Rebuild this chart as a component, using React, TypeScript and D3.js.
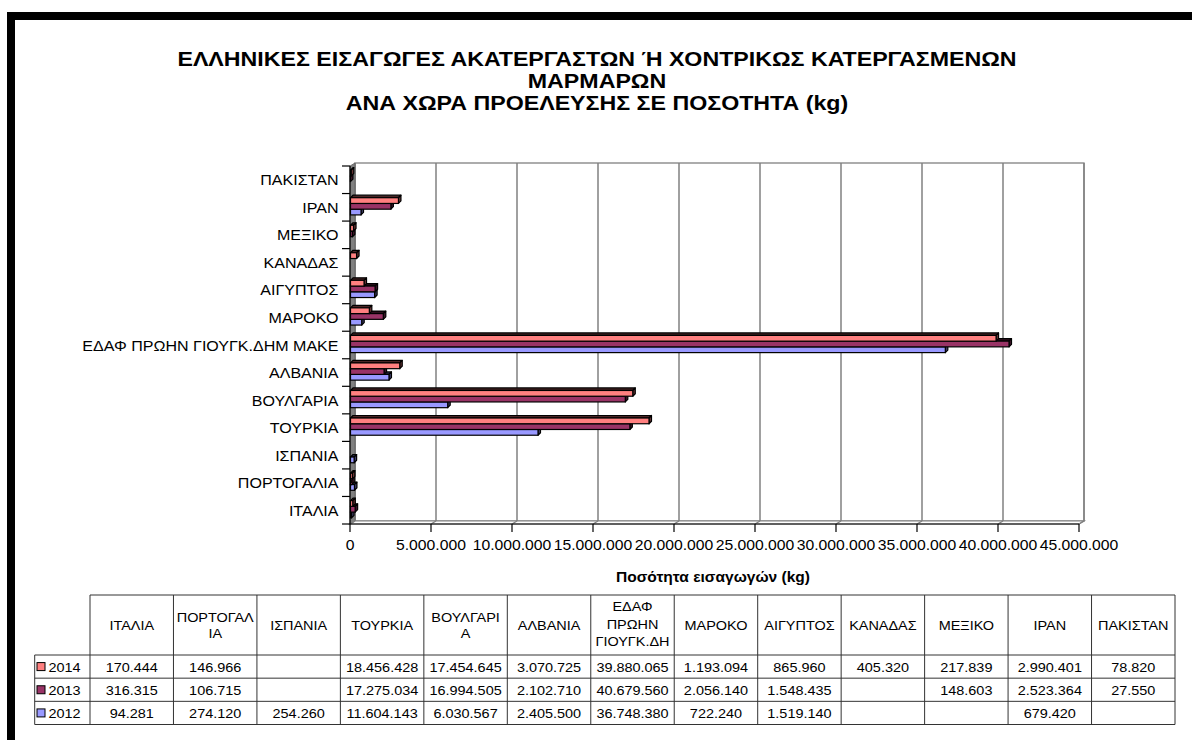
import React from "react";
import * as d3 from "d3";

const categories = [
  "ΙΤΑΛΙΑ",
  "ΠΟΡΤΟΓΑΛΙΑ",
  "ΙΣΠΑΝΙΑ",
  "ΤΟΥΡΚΙΑ",
  "ΒΟΥΛΓΑΡΙΑ",
  "ΑΛΒΑΝΙΑ",
  "ΕΔΑΦ ΠΡΩΗΝ ΓΙΟΥΓΚ.ΔΗΜ ΜΑΚΕ",
  "ΜΑΡΟΚΟ",
  "ΑΙΓΥΠΤΟΣ",
  "ΚΑΝΑΔΑΣ",
  "ΜΕΞΙΚΟ",
  "ΙΡΑΝ",
  "ΠΑΚΙΣΤΑΝ",
];

const tableHeaders = [
  ["ΙΤΑΛΙΑ"],
  ["ΠΟΡΤΟΓΑΛ", "ΙΑ"],
  ["ΙΣΠΑΝΙΑ"],
  ["ΤΟΥΡΚΙΑ"],
  ["ΒΟΥΛΓΑΡΙ", "Α"],
  ["ΑΛΒΑΝΙΑ"],
  ["ΕΔΑΦ", "ΠΡΩΗΝ", "ΓΙΟΥΓΚ.ΔΗ"],
  ["ΜΑΡΟΚΟ"],
  ["ΑΙΓΥΠΤΟΣ"],
  ["ΚΑΝΑΔΑΣ"],
  ["ΜΕΞΙΚΟ"],
  ["ΙΡΑΝ"],
  ["ΠΑΚΙΣΤΑΝ"],
];

const seriesNames = ["2014", "2013", "2012"];
const seriesColors = ["#FF8080", "#993366", "#9999FF"];

const values2014 = [170444, 146966, null, 18456428, 17454645, 3070725, 39880065, 1193094, 865960, 405320, 217839, 2990401, 78820];
const values2013 = [316315, 106715, null, 17275034, 16994505, 2102710, 40679560, 2056140, 1548435, null, 148603, 2523364, 27550];
const values2012 = [94281, 274120, 254260, 11604143, 6030567, 2405500, 36748380, 722240, 1519140, null, null, 679420, null];

const xTicks = [0, 5000000, 10000000, 15000000, 20000000, 25000000, 30000000, 35000000, 40000000, 45000000];

const titleLines = [
  "ΕΛΛΗΝΙΚΕΣ ΕΙΣΑΓΩΓΕΣ ΑΚΑΤΕΡΓΑΣΤΩΝ Ή ΧΟΝΤΡΙΚΩΣ ΚΑΤΕΡΓΑΣΜΕΝΩΝ",
  "ΜΑΡΜΑΡΩΝ",
  "ΑΝΑ ΧΩΡΑ ΠΡΟΕΛΕΥΣΗΣ ΣΕ ΠΟΣΟΤΗΤΑ (kg)",
];
const xAxisTitle = "Ποσότητα εισαγωγών (kg)";

const FONT = "'Liberation Sans', Arial, Helvetica, sans-serif";

const locale = d3.formatLocale({ decimal: ",", thousands: ".", grouping: [3], currency: ["", "€"] });
const fmt = locale.format(",d");

function SText(props: {
  x: number;
  y: number;
  sx: number;
  size: number;
  anchor?: "start" | "middle" | "end";
  bold?: boolean;
  children: React.ReactNode;
}) {
  return (
    <text
      transform={`translate(${props.x},${props.y}) scale(${props.sx},1)`}
      textAnchor={props.anchor || "start"}
      fontSize={props.size}
      fontWeight={props.bold ? "bold" : "normal"}
      fill="#000"
    >
      {props.children}
    </text>
  );
}

export default function App() {
  const series = [values2014, values2013, values2012];

  const left = 350;
  const right = 1079;
  const top = 166;
  const bottom = 524;
  const dx = 5;
  const dy = -3;
  const bd = 2.5;

  const x = d3.scaleLinear().domain([0, 45000000]).range([left, right]);
  const y = d3.scaleBand<string>().domain(categories).range([bottom, top]);
  const bw = y.bandwidth();
  const yInner = d3
    .scaleBand<string>()
    .domain(seriesNames)
    .range([0, bw])
    .paddingInner(0)
    .paddingOuter(0.9);

  const col = d3.scaleBand<string>().domain(categories).range([90, 1175]);
  const legendLeft = 34.7;
  const headTop = 595;
  const headBottom = 655;
  const tableBottom = 724.5;
  const rowY = d3.scaleBand<string>().domain(seriesNames).range([headBottom, tableBottom]);

  const bars: JSX.Element[] = [];
  categories.forEach((c, ci) => {
    for (let si = seriesNames.length - 1; si >= 0; si--) {
      const v = series[si][ci];
      if (v == null) continue;
      const x0 = x(0) + 0.5;
      const x1 = x(v);
      const yt = (y(c) as number) + (yInner(seriesNames[si]) as number) - 1;
      const h = yInner.bandwidth();
      const base = d3.color(seriesColors[si])!;
      const dark = base.darker(2.6).formatHex();
      const darker = base.darker(3.5).formatHex();
      bars.push(
        <g key={`${ci}-${si}`}>
          <polygon
            points={`${x0},${yt} ${x0 + bd},${yt - bd} ${x1 + bd},${yt - bd} ${x1},${yt}`}
            fill={darker}
            stroke="#000"
            strokeWidth={1.2}
            strokeLinejoin="round"
          />
          <polygon
            points={`${x1},${yt} ${x1 + bd},${yt - bd} ${x1 + bd},${yt + h - bd} ${x1},${yt + h}`}
            fill={dark}
            stroke="#000"
            strokeWidth={1.2}
            strokeLinejoin="round"
          />
          <rect x={x0} y={yt} width={Math.max(0, x1 - x0)} height={h} fill={seriesColors[si]} stroke="#000" strokeWidth={1.2} />
        </g>
      );
    }
  });

  const boundaries = d3.range(categories.length + 1).map((i) => bottom - i * bw);

  return (
    <svg width={1192} height={740} style={{ position: "absolute", left: 0, top: 0, fontFamily: FONT }}>
      {/* outer frame */}
      <rect x={7} y={12} width={1190} height={740} fill="#000" />
      <rect x={15} y={20} width={1180} height={730} fill="#fff" />

      {/* title */}
      {titleLines.map((t, i) => (
        <SText key={i} x={597} y={65.5 + i * 22} sx={1.19} size={19.5} anchor="middle" bold>
          {t}
        </SText>
      ))}

      {/* back wall */}
      <rect x={left + dx} y={top + dy} width={right - left} height={bottom - top} fill="#fff" stroke="#808080" strokeWidth={1.3} />
      {xTicks.map((t) => (
        <line key={t} x1={x(t) + dx} x2={x(t) + dx} y1={top + dy} y2={bottom + dy} stroke="#808080" strokeWidth={1.5} />
      ))}
      {/* side wall */}
      <polygon
        points={`${left},${top} ${left + dx},${top + dy} ${left + dx},${bottom + dy} ${left},${bottom}`}
        fill="#808080"
        stroke="#606060"
        strokeWidth={0.8}
      />
      {/* floor */}
      <polygon
        points={`${left},${bottom} ${left + dx},${bottom + dy} ${right + dx},${bottom + dy} ${right},${bottom}`}
        fill="#fff"
        stroke="#808080"
        strokeWidth={1.2}
      />
      {xTicks.map((t) => (
        <line key={"f" + t} x1={x(t)} x2={x(t) + dx} y1={bottom} y2={bottom + dy} stroke="#808080" strokeWidth={1.2} />
      ))}

      {bars}

      {/* axes */}
      <line x1={left} x2={left} y1={top} y2={bottom} stroke="#000" strokeWidth={1.2} />
      <line x1={left} x2={right} y1={bottom} y2={bottom} stroke="#000" strokeWidth={1.2} />
      {boundaries.map((b, i) => (
        <line key={"yt" + i} x1={left - 8} x2={left} y1={b} y2={b} stroke="#000" strokeWidth={1.2} />
      ))}
      {xTicks.map((t) => (
        <line key={"xt" + t} x1={x(t)} x2={x(t)} y1={bottom} y2={bottom + 8} stroke="#000" strokeWidth={1.2} />
      ))}
      {categories.map((c) => (
        <SText key={"yl" + c} x={338.5} y={(y(c) as number) + bw / 2 + 5.5} sx={1.07} size={15} anchor="end">
          {c}
        </SText>
      ))}
      {xTicks.map((t) => (
        <SText key={"xl" + t} x={x(t)} y={550} sx={1.05} size={15} anchor="middle">
          {fmt(t)}
        </SText>
      ))}
      <SText x={713} y={582} sx={1.11} size={14} anchor="middle" bold>
        {xAxisTitle}
      </SText>

      {/* data table */}
      {categories.map((c, ci) => {
        const cx = (col(c) as number) + col.bandwidth() / 2;
        const lines = tableHeaders[ci];
        const lh = lines.length === 3 ? 17.8 : 16;
        const mid = (headTop + headBottom) / 2 - (lines.length === 3 ? 1.5 : 0);
        return (
          <g key={"th" + ci}>
            {lines.map((l, li) => (
              <SText key={li} x={cx} y={mid + (li - (lines.length - 1) / 2) * lh + 5} sx={1.07} size={13.5} anchor="middle">
                {l}
              </SText>
            ))}
          </g>
        );
      })}
      {seriesNames.map((s, si) => {
        const ry = rowY(s) as number;
        const rh = rowY.bandwidth();
        return (
          <g key={"row" + s}>
            <rect x={37} y={ry + rh / 2 - 4} width={8} height={8} fill={seriesColors[si]} stroke="#000" strokeWidth={1} />
            <SText x={48.5} y={ry + rh / 2 + 5} sx={1.07} size={13.5}>
              {s}
            </SText>
            {categories.map((c, ci) => {
              const v = series[si][ci];
              if (v == null) return null;
              return (
                <SText key={c} x={(col(c) as number) + col.bandwidth() / 2} y={ry + rh / 2 + 5} sx={1.07} size={13.5} anchor="middle">
                  {fmt(v)}
                </SText>
              );
            })}
          </g>
        );
      })}
      <g stroke="#333" strokeWidth={1} fill="none">
        <line x1={90} x2={1175} y1={headTop} y2={headTop} />
        <line x1={legendLeft} x2={1175} y1={headBottom} y2={headBottom} />
        {seriesNames.map((s) => (
          <line
            key={"hl" + s}
            x1={legendLeft}
            x2={1175}
            y1={(rowY(s) as number) + rowY.bandwidth()}
            y2={(rowY(s) as number) + rowY.bandwidth()}
          />
        ))}
        <line x1={legendLeft} x2={legendLeft} y1={headBottom} y2={tableBottom} />
        {categories.map((c) => (
          <line key={"vl" + c} x1={col(c) as number} x2={col(c) as number} y1={headTop} y2={tableBottom} />
        ))}
        <line x1={1175} x2={1175} y1={headTop} y2={tableBottom} />
      </g>
    </svg>
  );
}
